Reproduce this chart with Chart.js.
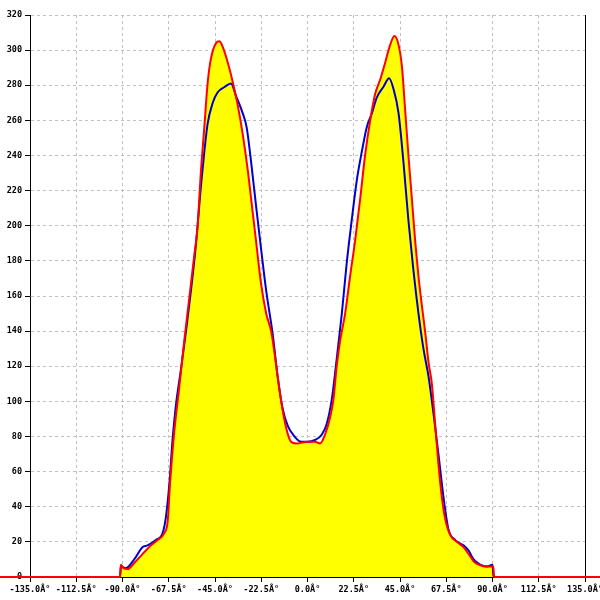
<!DOCTYPE html>
<html>
<head>
<meta charset="utf-8">
<script src="https://cdn.jsdelivr.net/npm/chart.js@4/dist/chart.umd.min.js"></script>
<style>
  html, body { margin: 0; padding: 0; background: #fff; }
  #wrap { width: 600px; height: 600px; }
</style>
</head>
<body>
<div id="wrap"><canvas id="chart" width="600" height="600"></canvas></div>
<script>
// x tick labels as printed (mojibake degree sign kept)
const xTicks = [-135, -112.5, -90, -67.5, -45, -22.5, 0, 22.5, 45, 67.5, 90, 112.5, 135];
const yTicks = [0, 20, 40, 60, 80, 100, 120, 140, 160, 180, 200, 220, 240, 260, 280, 300, 320];

// red series (filled yellow)
const redDeg = [-150, -91.2, -90.8, -89.5, -87.5, -84.3, -80.3, -76.2, -73, -69.7, -68, -66.9, -64.8, -62.4, -60,
  -57.5, -55.1, -53.5, -51.9, -50.2, -48.6, -47, -44.5, -42.9, -41.3, -38.8, -36.4, -34, -31.5, -29.1,
  -26.6, -25, -22.6, -20.1, -17.7, -16.1, -14.5, -12.8, -10.4, -8, -5.5, 0, 3.7, 6.1, 8.5,
  11, 12.6, 14.2, 15.8, 18.3, 20.7, 23.1, 25.6, 28, 30.5, 32.9, 35.3, 37.8, 40.2, 42.3,
  44.3, 45.9, 47.5, 49.1, 50.8, 52.4, 54, 55.6, 57.3, 58.9, 60.5, 62.1, 63.8, 65.4, 67,
  69.4, 72.7, 75.9, 78.4, 80.8, 83.3, 86.5, 89.8, 90.4, 90.8, 150];
const redVal = [0, 0, 7, 5, 4.5, 8, 13, 18, 21, 25, 32, 53, 83, 108, 134,
  159, 183, 199, 230, 256, 281, 295, 304, 305, 302, 293, 282, 269, 252, 232,
  207, 191, 167, 150, 140, 128, 114, 100, 85, 77, 76, 77, 77, 76, 81,
  91, 101, 120, 134, 150, 171, 191, 215, 240, 260, 275, 283, 293, 303, 308,
  303, 291, 266, 240, 215, 191, 171, 155, 139, 122, 110, 87, 63, 45, 33,
  24, 20, 17, 13, 9, 7, 6, 6, 6, 0, 0];

// blue series
const blueDeg = [-150, -91.2, -90.8, -88.4, -84.3, -80.3, -77.8, -73.8, -70.5, -68.9, -67.2, -65.6, -64, -61.6,
  -59.1, -56.7, -54.3, -51.9, -50.2, -48.6, -46.1, -43.7, -40.4, -37.2, -34.8, -31.5, -29.6, -27.4,
  -25, -22.6, -20.1, -16.9, -14.5, -12.1, -9.6, -6.3, -3.1, 0, 3.7, 6.9, 9.3, 11.8, 14.2, 16.7,
  19.1, 21.5, 24, 26.4, 28.8, 31.3, 33.7, 36.9, 39.7, 41.8, 44.3, 46.7, 49.1, 51.5, 54, 56.4,
  58.9, 61.3, 63.8, 66.2, 68.6, 71.9, 75.9, 78.4, 80.8, 84, 87.3, 90, 90.5, 150];
const blueVal = [0, 0, 6, 5, 10, 17, 18, 21, 25, 34, 53, 79, 98, 118,
  140, 163, 189, 222, 242, 258, 270, 276, 279, 281, 274, 264, 256, 236,
  211, 187, 163, 138, 114, 96, 86, 80, 77, 77, 78, 81, 87, 101, 124, 150,
  179, 203, 226, 242, 256, 264, 273, 279, 284, 278, 264, 236, 203, 175, 150, 130,
  114, 93, 69, 45, 27, 21, 18, 15, 10, 7, 6, 7, 0, 0];

const toPoints = (xs, ys) => xs.map((x, i) => ({ x: x, y: ys[i] }));

const tickFont = { family: 'DejaVu Sans Mono', size: 8.5, weight: 'bold' };

new Chart(document.getElementById('chart'), {
  type: 'line',
  data: {
    datasets: [
      {
        label: 'red',
        data: toPoints(redDeg, redVal),
        borderColor: '#ff0000',
        borderWidth: 2,
        backgroundColor: '#ffff00',
        fill: 'origin',
        pointRadius: 0,
        cubicInterpolationMode: 'monotone',
        clip: false,
        order: 0
      },
      {
        label: 'blue',
        data: toPoints(blueDeg, blueVal),
        borderColor: '#0000c8',
        borderWidth: 2,
        fill: false,
        pointRadius: 0,
        cubicInterpolationMode: 'monotone',
        clip: false,
        order: 1
      }
    ]
  },
  options: {
    responsive: false,
    animation: false,
    events: [],
    layout: { padding: { top: 15, right: 15, left: 0, bottom: 0 } },
    plugins: {
      legend: { display: false },
      tooltip: { enabled: false },
      // draw the yellow fill under both lines
      filler: { drawTime: 'beforeDatasetsDraw' }
    },
    scales: {
      x: {
        type: 'linear',
        min: -135,
        max: 135,
        afterBuildTicks: (scale) => { scale.ticks = xTicks.map(v => ({ value: v })); },
        afterFit: (scale) => { scale.height = 23; scale.paddingLeft = 0; scale.paddingRight = 0; },
        ticks: {
          color: '#000',
          font: tickFont,
          padding: 3,
          maxRotation: 0,
          autoSkip: false,
          callback: (v) => Number(v).toFixed(1) + 'Â°'
        },
        grid: {
          color: '#c0c0c0',
          tickColor: '#000',
          tickLength: 5,
          tickBorderDash: [],
          lineWidth: 1
        },
        // dash here sets the dashed grid lines
        border: { color: '#000', width: 1, dash: [3, 3] }
      },
      y: {
        min: 0,
        max: 320,
        afterBuildTicks: (scale) => { scale.ticks = yTicks.map(v => ({ value: v })); },
        afterFit: (scale) => { scale.width = 30; scale.paddingTop = 0; scale.paddingBottom = 0; },
        ticks: { color: '#000', font: tickFont, padding: 3 },
        grid: {
          color: '#c0c0c0',
          tickColor: '#000',
          tickLength: 5,
          tickBorderDash: [],
          lineWidth: 1
        },
        border: { color: '#000', width: 1, dash: [3, 3] }
      },
      y2: {
        position: 'right',
        min: 0,
        max: 320,
        afterFit: (scale) => { scale.width = 0; },
        ticks: { display: false },
        grid: { drawOnChartArea: false, drawTicks: false },
        border: { color: '#000', width: 1 }
      }
    }
  }
});
</script>
</body>
</html>
